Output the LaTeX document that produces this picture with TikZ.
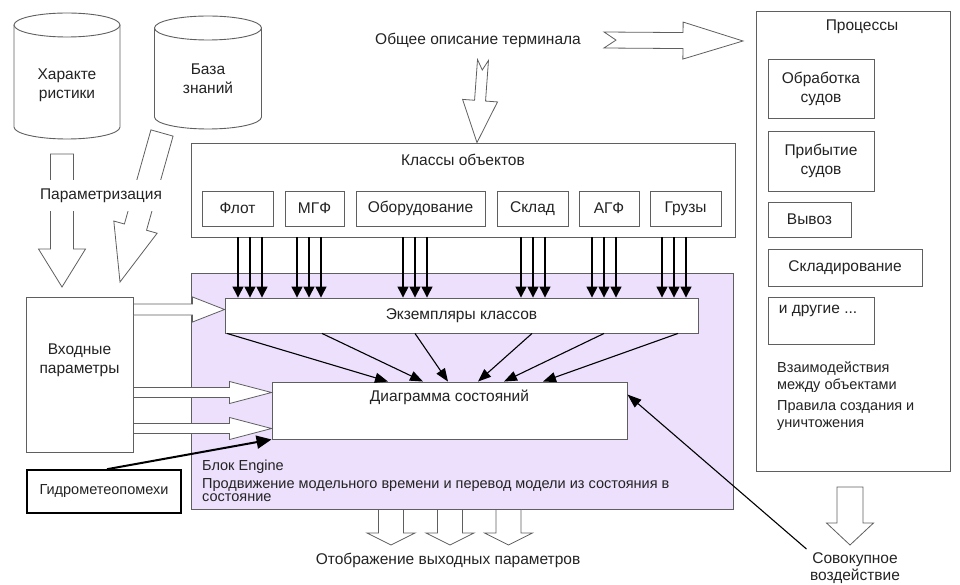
\documentclass[tikz,border=0pt]{standalone}
\usepackage{fontspec}
\setmainfont{Liberation Sans}
\usetikzlibrary{arrows.meta,calc,positioning}

\definecolor{linegray}{RGB}{95,95,95}
\definecolor{enginefill}{RGB}{236,224,252}
\definecolor{textgray}{RGB}{35,35,35}

\tikzset{
  every picture/.style = {
    x=1pt, y=1pt,
    font=\fontsize{15.5}{19}\selectfont,
    text=textgray
  },
  box/.style={
    draw=linegray,
    fill=white,
    line width=0.9pt,
    inner sep=0pt
  },
  hollow/.style={
    draw=linegray,
    fill=white,
    line width=0.8pt,
    line join=miter
  },
  feed/.style={
    draw=black,
    line width=1.3pt,
    -{Triangle[width=11pt,length=11pt]}
  },
  fan/.style={
    draw=black,
    line width=1.1pt,
    -{Triangle[width=10pt,length=13pt]}
  },
  small/.style={font=\fontsize{14.5}{17}\selectfont}
}

% tail, tip, shaft half width, head half width, head length, notch
\newcommand{\blockarrow}[6]{%
  \filldraw[hollow] let \p1=#1, \p2=#2,
      \n1={atan2(\y2-\y1,\x2-\x1)}, \n2={veclen(\x2-\x1,\y2-\y1)} in
    [shift={(\p1)}, rotate=\n1]
    (0,#3) -- (\n2-#5,#3) -- (\n2-#5,#4) -- (\n2,0)
    -- (\n2-#5,-#4) -- (\n2-#5,-#3) -- (0,-#3) -- (#6,0) -- cycle;}

\begin{document}
\begin{tikzpicture}
  \useasboundingbox (0,0) rectangle (960,-585);

  % storages
  \draw[box] (14,-25) -- (14,-127) arc[start angle=180,end angle=360,x radius=53,y radius=12] -- (120,-25);
  \draw[box] (67,-25) ellipse [x radius=53, y radius=12];
  \node[align=center] (chars) at (67,-85) {Характе\\ристики};
  \draw[box] (154.5,-28) -- (154.5,-117) arc[start angle=180,end angle=360,x radius=53.5,y radius=12] -- (261.5,-28);
  \draw[box] (208,-28) ellipse [x radius=53.5, y radius=12];
  \node[align=center] (knowledge) at (208,-79) {База\\знаний};

  % engine block
  \node[box, fill=enginefill, minimum width=542pt, minimum height=236pt] (engine) at (462,-391) {};
  \node[small, anchor=north west, align=left, inner sep=0pt] (enginetxt) at (202,-460)
    {Блок Engine\\[1pt]Продвижение модельного времени и перевод модели из состояния в\\[-4pt]состояние};

  % classes
  \node[box, minimum width=544pt, minimum height=94pt] (classes) at (463,-190) {};
  \node (classtitle) at (463,-160) {Классы объектов};
  \node[box, minimum width=71pt, minimum height=35pt] (flot) at (237.5,-208.5) {Флот};
  \node[box, minimum width=59pt, minimum height=35pt] (mgf) at (314.5,-208.5) {МГФ};
  \node[box, minimum width=129pt, minimum height=35pt] (equip) at (420.5,-208.5) {Оборудование};
  \node[box, minimum width=71pt, minimum height=35pt] (store) at (532.5,-208.5) {Склад};
  \node[box, minimum width=60pt, minimum height=35pt] (agf) at (609,-208.5) {АГФ};
  \node[box, minimum width=71pt, minimum height=35pt] (cargo) at (685.5,-208.5) {Грузы};

  \node[box, minimum width=473pt, minimum height=35pt] (inst) at (461.5,-315.5) {Экземпляры классов};
  \node[box, minimum width=355pt, minimum height=57pt] (diag) at (449.5,-410.5) {};
  \node[anchor=north, inner sep=0pt] (diagtxt) at ($(diag.north)+(0,-8)$) {Диаграмма состояний};

  % inputs
  \node[box, minimum width=107pt, minimum height=155pt] (inp) at (79.5,-374.5) {};
  \node[align=center] (inptxt) at (79.5,-360) {Входные\\параметры};
  \node[draw=black, line width=1.6pt, fill=white, minimum width=154pt, minimum height=43pt, small] (hydro) at (104,-491.5) {Гидрометеопомехи};

  % processes
  \node[box, minimum width=194pt, minimum height=460pt] (proc) at (853,-241) {};
  \node (proctitle) at (862,-27) {Процессы};
  \node[box, minimum width=106pt, minimum height=59pt, align=center] (handling) at (821,-88.5) {Обработка\\судов};
  \node[box, minimum width=106pt, minimum height=60pt, align=center] (arrival) at (821,-161) {Прибытие\\судов};
  \node[box, minimum width=83pt, minimum height=35pt] (removal) at (809.5,-219.5) {Вывоз};
  \node[box, minimum width=154pt, minimum height=37pt] (storing) at (845,-267.5) {Складирование};
  \node[box, minimum width=106pt, minimum height=47pt] (others) at (821,-320.5) {};
  \node (otherstxt) at (818,-311) {и другие ...};
  \node[small, anchor=north west, align=left, inner sep=0pt] (interact) at (777,-362) {Взаимодействия\\между объектами};
  \node[small, anchor=north west, align=left, inner sep=0pt] (rules) at (777,-400) {Правила создания и\\уничтожения};

  % labels
  \node (general) at (478,-40) {Общее описание терминала};
  \node (output) at (448,-560) {Отображение выходных параметров};
  \node[align=center, font=\fontsize{15.5}{17}\selectfont] (total) at (855,-568) {Совокупное\\воздействие};

  % block arrows
  \coordinate (gentail) at (483,-60);
  \blockarrow{(gentail)}{(477,0 |- classes.north)}{5.5}{17.5}{42}{10}
  \coordinate (proctail) at (604,-40);
  \coordinate (proctip) at (743,-41);
  \blockarrow{(proctail)}{(proctip)}{8}{18.5}{60}{12}
  \coordinate (chartail) at (62,-154);
  \coordinate (chartip) at (62,-287);
  \blockarrow{(chartail)}{(chartip)}{11.5}{23.5}{38}{0}
  \coordinate (basetail) at (162,-133);
  \coordinate (basetip) at (120,-282);
  \blockarrow{(basetail)}{(basetip)}{11.5}{22.5}{57}{0}
  \node[fill=white, minimum height=31pt, inner xsep=3pt] (paramtxt) at (101,-196) {Параметризация};

  \coordinate (in1) at ($(inst.west)+(0,6)$);
  \coordinate (in2) at ($(diag.west)+(0,18)$);
  \coordinate (in3) at ($(diag.west)+(0,-18)$);
  \blockarrow{(inp.east |- in1)}{(in1)}{5.5}{12.5}{32}{0}
  \blockarrow{(inp.east |- in2)}{(in2)}{5}{11}{42}{0}
  \blockarrow{(inp.east |- in3)}{(in3)}{5}{11}{42}{0}

  \foreach \cx in {391,450,508.5}
    \blockarrow{(\cx,0 |- engine.south)}{(\cx,-545)}{12.5}{24}{12}{0}
  \coordinate (proctop) at (850,-487);
  \coordinate (procend) at (850,-545);
  \blockarrow{(proctop)}{(procend)}{13}{23.5}{22}{0}

  % connectors
  \foreach \cx in {250,309,415,533,604,674}
    \foreach \dk in {-12,0,12}
      \draw[feed] ($(\cx,0 |- classes.south)+(\dk,0)$) -- ($(\cx,0 |- inst.north)+(\dk,0)$);
  \foreach \a/\b in {227/388,322/423,415/448,532/478,604/504,678/543}
    \draw[fan] (\a,0 |- inst.south) -- (\b,0 |- diag.north);
  \draw[black, line width=2pt, -{Triangle[width=13pt,length=15pt]}] (107,0 |- hydro.north) -- (diag.south west);
  \draw[black, line width=1.1pt, -{Triangle[width=10pt,length=14pt]}] (total.north west) -- ($(diag.east)+(0,16)$);
\end{tikzpicture}
\end{document}
